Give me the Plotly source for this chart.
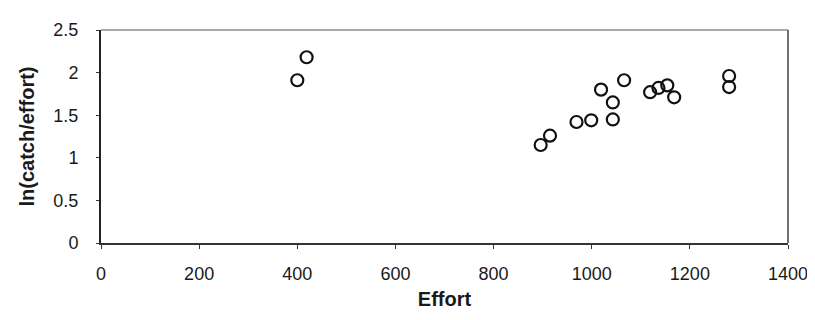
import plotly.graph_objects as go

effort = [419, 400, 896, 915, 969, 999, 1043, 1043, 1019, 1066,
          1119, 1136, 1154, 1168, 1280, 1280]
ln_cpue = [2.18, 1.91, 1.15, 1.26, 1.42, 1.44, 1.45, 1.65, 1.80, 1.91,
           1.77, 1.82, 1.85, 1.71, 1.96, 1.83]

x_ticks = [0, 200, 400, 600, 800, 1000, 1200, 1400]
y_ticks = [0, 0.5, 1, 1.5, 2, 2.5]
y_tick_text = ["0", "0.5", "1", "1.5", "2", "2.5"]

fig = go.Figure()
fig.add_trace(go.Scatter(
    x=effort, y=ln_cpue, mode="markers",
    marker=dict(symbol="circle-open", size=12, color="#111",
                line=dict(width=2.2, color="#111")),
    showlegend=False, cliponaxis=False,
))

tick_font = dict(family="Liberation Sans, Arial, sans-serif", size=18, color="#1a1a1a")
title_font = dict(family="Liberation Sans, Arial, sans-serif", size=20, color="#1a1a1a")

fig.update_layout(
    width=815, height=320,
    margin=dict(l=93, r=35, t=16, b=85),
    paper_bgcolor="white", plot_bgcolor="white",
    font=tick_font,
    xaxis=dict(
        range=[0, 1400], tickvals=x_ticks, showgrid=False, zeroline=False,
        showline=True, linecolor="#333", linewidth=1.5,
        ticks="outside", ticklen=4, tickcolor="#333",
        ticklabelstandoff=10,
        title=dict(text="<b>Effort</b>", standoff=9, font=title_font),
        tickfont=tick_font,
    ),
    yaxis=dict(
        range=[0, 2.5], tickvals=y_ticks, ticktext=y_tick_text,
        showgrid=False, zeroline=False,
        showline=True, linecolor="#222", linewidth=2,
        ticks="outside", ticklen=3, tickcolor="#333",
        ticklabelstandoff=14,
        title=dict(text="<b>ln(catch/effort)</b>", standoff=13, font=title_font),
        tickfont=tick_font,
    ),
    shapes=[
        dict(type="line", xref="paper", yref="paper", x0=0, x1=1, y0=1, y1=1,
             line=dict(color="#555", width=1.2)),
        dict(type="line", xref="paper", yref="paper", x0=1, x1=1, y0=0, y1=1,
             line=dict(color="#444", width=1.5)),
    ],
)

fig.write_html("out.html")
